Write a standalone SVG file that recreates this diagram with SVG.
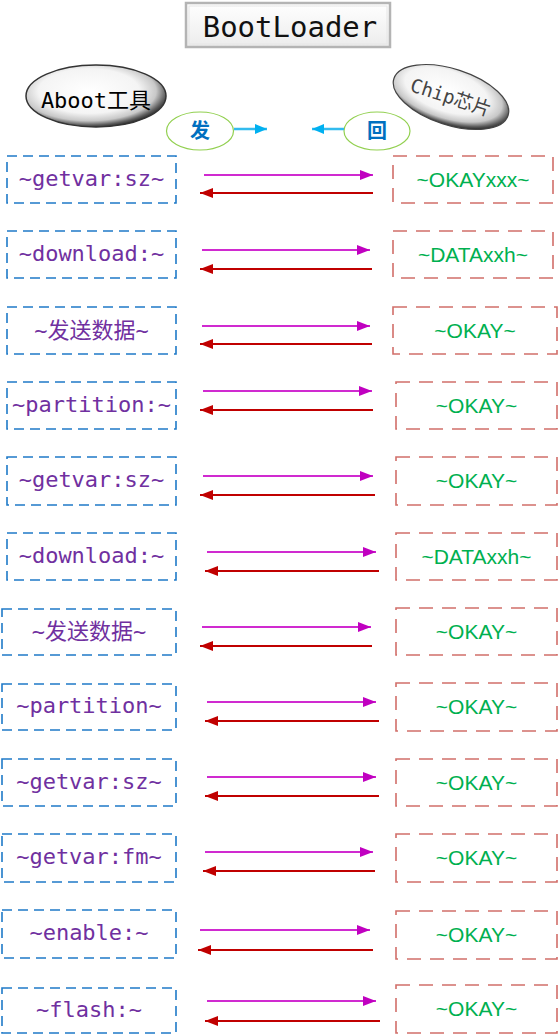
<svg xmlns="http://www.w3.org/2000/svg" width="558" height="1035" viewBox="0 0 558 1035">
<style>
.lbox{fill:#fff;stroke:#1F7AC8;stroke-width:1.6;stroke-dasharray:10 6}
.rbox{fill:#fff;stroke:#C9554F;stroke-width:1.6;stroke-dasharray:14 9;stroke-opacity:0.85}
.lt{font-family:"DejaVu Sans Mono","Noto Sans CJK SC",monospace;font-size:22px;fill:#7030A0;text-anchor:middle}
.rt{font-family:"Liberation Sans","Noto Sans",sans-serif;font-size:21px;fill:#00B050;text-anchor:middle}
.fwd{stroke:#D02AD0;stroke-width:2;fill:none;marker-end:url(#mf)}
.bck{stroke:#C00000;stroke-width:2;fill:none;marker-end:url(#mb)}
.blu{stroke:#33BBEE;stroke-width:2.5;fill:none;marker-end:url(#mc)}
.sel{fill:#fff;stroke:#92D050;stroke-width:1.2}
.st{font-family:"Noto Sans CJK SC",serif;font-size:20px;font-weight:bold;fill:#0070C0;text-anchor:middle}
</style>
<defs>
<marker id="mf" markerUnits="userSpaceOnUse" markerWidth="14" markerHeight="11" refX="13" refY="5" orient="auto"><path d="M0,0 L13,5 L0,10 z" fill="#C000C0"/></marker>
<marker id="mb" markerUnits="userSpaceOnUse" markerWidth="14" markerHeight="11" refX="13" refY="5" orient="auto"><path d="M0,0 L13,5 L0,10 z" fill="#C00000"/></marker>
<marker id="mc" markerUnits="userSpaceOnUse" markerWidth="14" markerHeight="11" refX="12" refY="5" orient="auto"><path d="M0,0 L12,5 L0,10 z" fill="#00B0F0"/></marker>
<radialGradient id="eg" cx="0.45" cy="0.42" r="0.6">
<stop offset="0" stop-color="#ffffff"/>
<stop offset="0.6" stop-color="#f4f4f4"/>
<stop offset="0.8" stop-color="#c8c8c8"/>
<stop offset="0.92" stop-color="#5a5a5a"/>
<stop offset="1" stop-color="#222222"/>
</radialGradient>
<linearGradient id="tg" x1="0" y1="0" x2="0" y2="1">
<stop offset="0" stop-color="#ffffff"/>
<stop offset="1" stop-color="#ececec"/>
</linearGradient>
</defs>

<g id="title">
<rect x="186" y="3" width="204" height="44" fill="url(#tg)" stroke="#b4b4b4" stroke-width="2.5"/>
<rect x="189" y="6" width="198" height="38" fill="none" stroke="#e6e6e6" stroke-width="1"/>
<text x="290" y="37" font-family="DejaVu Sans Mono,monospace" font-size="29" fill="#111" text-anchor="middle">BootLoader</text>
</g>

<g id="aboot">
<ellipse cx="96" cy="96" rx="70" ry="31" fill="url(#eg)" stroke="#333" stroke-width="1.5"/>
<text x="96" y="108" font-family="DejaVu Sans Mono,'Noto Sans CJK SC',monospace" font-size="22" fill="#000" text-anchor="middle">Aboot工具</text>
</g>

<g id="chip" transform="rotate(18 451 97)">
<ellipse cx="451" cy="97" rx="60" ry="28" fill="url(#eg)" stroke="#444" stroke-width="1.2"/>
<text x="451" y="104" font-family="DejaVu Sans Mono,'Noto Sans CJK SC',monospace" font-size="19" fill="#444" text-anchor="middle">Chip芯片</text>
</g>

<g id="send">
<ellipse class="sel" cx="200" cy="131" rx="33.5" ry="19"/>
<text class="st" x="200" y="138">发</text>
</g>
<g id="reply">
<ellipse class="sel" cx="377" cy="131" rx="33" ry="19"/>
<text class="st" x="377" y="138">回</text>
</g>

<g id="connectors">
<line class="blu" x1="234" y1="129" x2="267" y2="129"/>
<line class="blu" x1="344" y1="129" x2="312" y2="129"/>
<line class="fwd" x1="204" y1="175" x2="373" y2="175"/><line class="bck" x1="373" y1="193" x2="200" y2="193"/>
<line class="fwd" x1="202" y1="250" x2="370" y2="250"/><line class="bck" x1="372" y1="269" x2="200" y2="269"/>
<line class="fwd" x1="202" y1="326" x2="370" y2="326"/><line class="bck" x1="372" y1="344" x2="200" y2="344"/>
<line class="fwd" x1="203" y1="391" x2="372" y2="391"/><line class="bck" x1="373" y1="410" x2="200" y2="410"/>
<line class="fwd" x1="203" y1="476" x2="373" y2="476"/><line class="bck" x1="375" y1="495" x2="200" y2="495"/>
<line class="fwd" x1="207" y1="552" x2="376" y2="552"/><line class="bck" x1="379" y1="571" x2="205" y2="571"/>
<line class="fwd" x1="202" y1="627" x2="371" y2="627"/><line class="bck" x1="372" y1="646" x2="200" y2="646"/>
<line class="fwd" x1="207" y1="702" x2="376" y2="702"/><line class="bck" x1="379" y1="721" x2="205" y2="721"/>
<line class="fwd" x1="207" y1="777" x2="376" y2="777"/><line class="bck" x1="379" y1="796" x2="205" y2="796"/>
<line class="fwd" x1="205" y1="852" x2="373" y2="852"/><line class="bck" x1="375" y1="871" x2="203" y2="871"/>
<line class="fwd" x1="200" y1="930" x2="370" y2="930"/><line class="bck" x1="373" y1="950" x2="198" y2="950"/>
<line class="fwd" x1="207" y1="1001" x2="376" y2="1001"/><line class="bck" x1="380" y1="1021" x2="205" y2="1021"/>
</g>

<g id="l1"><rect class="lbox" x="7" y="156" width="169" height="47"/><text class="lt" x="91.5" y="186">~getvar:sz~</text></g>
<g id="l2"><rect class="lbox" x="7" y="231" width="169" height="47"/><text class="lt" x="91.5" y="261">~download:~</text></g>
<g id="l3"><rect class="lbox" x="7" y="307" width="169" height="47"/><text class="lt" x="91.5" y="338">~发送数据~</text></g>
<g id="l4"><rect class="lbox" x="7" y="382" width="169" height="47"/><text class="lt" x="91.5" y="412">~partition:~</text></g>
<g id="l5"><rect class="lbox" x="7" y="457" width="169" height="48"/><text class="lt" x="91.5" y="487">~getvar:sz~</text></g>
<g id="l6"><rect class="lbox" x="7" y="533" width="169" height="47"/><text class="lt" x="91.5" y="563">~download:~</text></g>
<g id="l7"><rect class="lbox" x="2" y="609" width="174" height="46"/><text class="lt" x="89" y="639">~发送数据~</text></g>
<g id="l8"><rect class="lbox" x="2" y="684" width="174" height="46"/><text class="lt" x="89" y="713">~partition~</text></g>
<g id="l9"><rect class="lbox" x="2" y="759" width="174" height="47"/><text class="lt" x="89" y="789">~getvar:sz~</text></g>
<g id="l10"><rect class="lbox" x="2" y="834" width="174" height="48"/><text class="lt" x="89" y="864">~getvar:fm~</text></g>
<g id="l11"><rect class="lbox" x="2" y="910" width="174" height="48"/><text class="lt" x="89" y="940">~enable:~</text></g>
<g id="l12"><rect class="lbox" x="2" y="988" width="174" height="45"/><text class="lt" x="89" y="1017">~flash:~</text></g>

<g id="r1"><rect class="rbox" x="393" y="156" width="160" height="47"/><text class="rt" x="473" y="187">~OKAYxxx~</text></g>
<g id="r2"><rect class="rbox" x="393" y="231" width="160" height="47"/><text class="rt" x="473" y="262">~DATAxxh~</text></g>
<g id="r3"><rect class="rbox" x="393" y="307" width="164" height="47"/><text class="rt" x="475" y="338">~OKAY~</text></g>
<g id="r4"><rect class="rbox" x="396" y="382" width="161" height="47"/><text class="rt" x="476.5" y="413">~OKAY~</text></g>
<g id="r5"><rect class="rbox" x="396" y="457" width="161" height="48"/><text class="rt" x="476.5" y="488">~OKAY~</text></g>
<g id="r6"><rect class="rbox" x="396" y="533" width="161" height="47"/><text class="rt" x="476.5" y="564">~DATAxxh~</text></g>
<g id="r7"><rect class="rbox" x="396" y="608" width="161" height="47"/><text class="rt" x="476.5" y="639">~OKAY~</text></g>
<g id="r8"><rect class="rbox" x="396" y="683" width="161" height="48"/><text class="rt" x="476.5" y="714">~OKAY~</text></g>
<g id="r9"><rect class="rbox" x="396" y="759" width="161" height="47"/><text class="rt" x="476.5" y="790">~OKAY~</text></g>
<g id="r10"><rect class="rbox" x="396" y="834" width="161" height="48"/><text class="rt" x="476.5" y="865">~OKAY~</text></g>
<g id="r11"><rect class="rbox" x="396" y="911" width="161" height="48"/><text class="rt" x="476.5" y="942">~OKAY~</text></g>
<g id="r12"><rect class="rbox" x="396" y="985" width="161" height="48"/><text class="rt" x="476.5" y="1016">~OKAY~</text></g>
</svg>
